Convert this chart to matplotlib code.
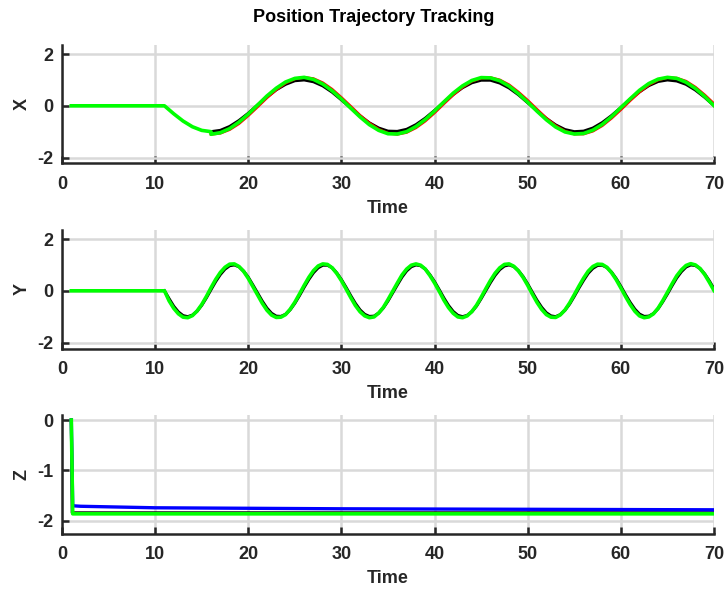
import numpy as np
import matplotlib
matplotlib.use("Agg")
import matplotlib.pyplot as plt

plt.rcParams['font.family'] = ['Liberation Sans', 'DejaVu Sans']
plt.rcParams['font.weight'] = 'bold'
plt.rcParams['axes.unicode_minus'] = False

# ---- X channel (period ~20) ----
x_ramp_t = [1, 11, 12, 13, 14, 15, 16]
x_ramp = [0.00, 0.00, -0.31, -0.59, -0.81, -0.95, -1.00]
x_t = np.arange(16, 71)
x_ref = [-1.00, -0.95, -0.80, -0.57, -0.29, 0.03, 0.34, 0.62, 0.83, 0.97,
         1.00, 0.93, 0.77, 0.53, 0.23, -0.08, -0.39, -0.66, -0.86, -0.98,
         -0.99, -0.91, -0.73, -0.48, -0.18, 0.14, 0.44, 0.70, 0.89, 0.99,
         0.99, 0.88, 0.69, 0.43, 0.12, -0.19, -0.49, -0.74, -0.92, -1.00,
         -0.98, -0.86, -0.65, -0.38, -0.07, 0.25, 0.54, 0.78, 0.94, 1.00,
         0.96, 0.83, 0.61, 0.33, 0.01]
x_red = [-1.10, -1.06, -0.92, -0.69, -0.38, -0.04, 0.31, 0.62, 0.88, 1.04,
         1.10, 1.05, 0.89, 0.64, 0.32, -0.02, -0.37, -0.67, -0.91, -1.06,
         -1.10, -1.03, -0.85, -0.59, -0.27, 0.08, 0.42, 0.72, 0.95, 1.07,
         1.09, 1.00, 0.81, 0.53, 0.21, -0.14, -0.48, -0.77, -0.98, -1.09,
         -1.09, -0.98, -0.77, -0.48, -0.15, 0.20, 0.53, 0.81, 1.00, 1.09,
         1.07, 0.95, 0.72, 0.42, 0.08]
x_green = [-1.10, -1.04, -0.88, -0.63, -0.32, 0.03, 0.38, 0.68, 0.92, 1.06,
           1.10, 1.02, 0.84, 0.58, 0.26, -0.09, -0.43, -0.73, -0.95, -1.08,
           -1.09, -1.00, -0.80, -0.53, -0.20, 0.15, 0.49, 0.77, 0.98, 1.09,
           1.08, 0.97, 0.76, 0.47, 0.14, -0.21, -0.54, -0.82, -1.01, -1.09,
           -1.07, -0.94, -0.72, -0.42, -0.07, 0.27, 0.60, 0.86, 1.03, 1.10,
           1.06, 0.91, 0.67, 0.36, 0.01]

# ---- Y channel (period ~10) ----
y_flat_t = [1, 11]
y_flat = [0.00, 0.00]
y_t = np.arange(11, 70.5, 0.5)
y_ref = [0.00, -0.31, -0.60, -0.82, -0.96, -1.00, -0.94, -0.79, -0.56, -0.27,
         0.05, 0.36, 0.63, 0.84, 0.97, 1.00, 0.93, 0.76, 0.52, 0.22,
         -0.09, -0.40, -0.67, -0.87, -0.98, -0.99, -0.91, -0.73, -0.48, -0.18,
         0.14, 0.44, 0.70, 0.89, 0.99, 0.99, 0.89, 0.69, 0.43, 0.13,
         -0.19, -0.49, -0.74, -0.91, -0.99, -0.98, -0.86, -0.66, -0.39, -0.08,
         0.23, 0.53, 0.77, 0.93, 1.00, 0.97, 0.84, 0.62, 0.35, 0.04,
         -0.28, -0.57, -0.80, -0.95, -1.00, -0.95, -0.81, -0.59, -0.30, 0.01,
         0.32, 0.60, 0.82, 0.96, 1.00, 0.94, 0.78, 0.55, 0.26, -0.06,
         -0.37, -0.64, -0.85, -0.97, -1.00, -0.92, -0.75, -0.51, -0.21, 0.11,
         0.41, 0.68, 0.87, 0.98, 0.99, 0.90, 0.72, 0.47, 0.17, -0.15,
         -0.45, -0.71, -0.90, -0.99, -0.98, -0.88, -0.69, -0.42, -0.12, 0.20,
         0.50, 0.74, 0.92, 1.00, 0.98, 0.86, 0.65, 0.38, 0.07]
y_green = [0.00, -0.39, -0.68, -0.89, -1.02, -1.04, -0.96, -0.78, -0.53, -0.22,
           0.12, 0.44, 0.71, 0.91, 1.03, 1.04, 0.94, 0.75, 0.48, 0.16,
           -0.16, -0.48, -0.75, -0.94, -1.03, -1.02, -0.92, -0.71, -0.44, -0.12,
           0.21, 0.52, 0.78, 0.96, 1.04, 1.02, 0.89, 0.67, 0.39, 0.07,
           -0.26, -0.57, -0.81, -0.97, -1.04, -1.01, -0.86, -0.64, -0.34, -0.02,
           0.30, 0.61, 0.84, 0.99, 1.04, 0.99, 0.84, 0.59, 0.30, -0.02,
           -0.36, -0.65, -0.87, -1.01, -1.04, -0.97, -0.80, -0.56, -0.25, 0.08,
           0.40, 0.68, 0.89, 1.02, 1.04, 0.95, 0.77, 0.52, 0.21, -0.13,
           -0.45, -0.72, -0.92, -1.02, -1.03, -0.93, -0.74, -0.47, -0.15, 0.18,
           0.49, 0.76, 0.94, 1.03, 1.02, 0.91, 0.70, 0.43, 0.11, -0.22,
           -0.53, -0.79, -0.97, -1.04, -1.01, -0.89, -0.67, -0.38, -0.06, 0.27,
           0.58, 0.81, 0.98, 1.05, 1.00, 0.86, 0.63, 0.33, 0.01]

# ---- Z channel ----
z_ref_t = [1.0, 1.1, 70]
z_ref = [0.00, -1.84, -1.84]
z_blue_t = [1.0, 1.15, 2, 10, 20, 30, 40, 50, 60, 70]
z_blue = [0.00, -1.70, -1.71, -1.74, -1.75, -1.76, -1.765, -1.77, -1.775, -1.78]
z_green_t = [1.0, 1.15, 70]
z_green = [0.00, -1.86, -1.86]

xticks = [0, 10, 20, 30, 40, 50, 60, 70]

fig = plt.figure(figsize=(7.27, 5.93), dpi=100)
W, H = 727.0, 593.0
left = 62 / W
width = 652 / W
axh = 118.5 / H
tops = [45, 230, 415]

axes = []
for top in tops:
    ax = fig.add_axes([left, 1 - (top + 118.5) / H, width, axh])
    axes.append(ax)

dark = '#262626'
fs = 13

def style(ax, ylab, ylim, yticks):
    ax.set_xlim(0, 70)
    ax.set_ylim(*ylim)
    ax.set_xticks(xticks)
    ax.set_yticks(yticks)
    ax.grid(True, color='#d9d9d9', linewidth=1.8)
    ax.set_axisbelow(True)
    for s in ['top', 'right']:
        ax.spines[s].set_visible(False)
    for s in ['left', 'bottom']:
        ax.spines[s].set_color(dark)
        ax.spines[s].set_linewidth(1.8)
    ax.tick_params(direction='in', length=5, width=1.8, colors=dark,
                   labelsize=fs, top=False, right=False)
    ax.tick_params(axis='x', pad=9)
    ax.tick_params(axis='y', pad=6)
    for lab in ax.get_xticklabels() + ax.get_yticklabels():
        lab.set_fontweight('bold')
    ax.set_xlabel('Time', fontsize=fs, fontweight='bold', color=dark)
    ax.xaxis.set_label_coords(0.5, -0.31)
    ax.set_ylabel(ylab, fontsize=fs, fontweight='bold', color=dark)
    ax.yaxis.set_label_coords(-0.048, 0.5)

ax = axes[0]
ax.plot(x_t, x_ref, color='black', linewidth=2.2)
ax.plot(x_t, x_red, color='red', linewidth=2.0)
ax.plot(np.concatenate([x_ramp_t, x_t]), x_ramp + x_green, color='#00ff00', linewidth=2.6)
style(ax, 'X', (-2.23, 2.35), [-2, 0, 2])

ax = axes[1]
ax.plot(y_t, y_ref, color='black', linewidth=2.2)
ax.plot(np.concatenate([y_flat_t, y_t]), y_flat + y_green, color='#00ff00', linewidth=2.6)
style(ax, 'Y', (-2.23, 2.35), [-2, 0, 2])

ax = axes[2]
ax.plot(z_ref_t, z_ref, color='black', linewidth=2.2)
ax.plot(z_blue_t, z_blue, color='blue', linewidth=2.4)
ax.plot(z_green_t, z_green, color='#00ff00', linewidth=2.6)
style(ax, 'Z', (-2.25, 0.1), [-2, -1, 0])

fig.text(374 / W, 1 - 17 / H, 'Position Trajectory Tracking', ha='center', va='center',
         fontsize=13, fontweight='bold', color='black')

fig.savefig('out.png', dpi=100)
